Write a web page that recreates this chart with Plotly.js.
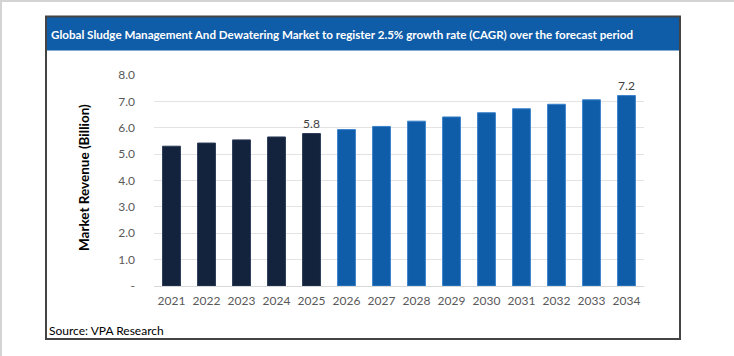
<!DOCTYPE html>
<html>
<head>
<meta charset="utf-8">
<script src="https://cdn.plot.ly/plotly-3.0.1.min.js"></script>
<style>
  html, body { margin: 0; padding: 0; background: #ffffff; }
  #chart { width: 734px; height: 356px; }
</style>
</head>
<body>
<div id="chart"></div>
<script>
// ---- Data ----
const years = ['2021','2022','2023','2024','2025','2026','2027','2028','2029','2030','2031','2032','2033','2034'];
const revenue = [5.30, 5.42, 5.54, 5.65, 5.78, 5.93, 6.05, 6.25, 6.41, 6.57, 6.72, 6.89, 7.06, 7.22];
const barLabels = ['', '', '', '', '5.8', '', '', '', '', '', '', '', '', '7.2'];
const isForecast = [false, false, false, false, false, true, true, true, true, true, true, true, true, true];
const yTickValues = [0, 1, 2, 3, 4, 5, 6, 7, 8];
const yTickLabels = ['-', '1.0', '2.0', '3.0', '4.0', '5.0', '6.0', '7.0', '8.0'];
const chartTitle = 'Global Sludge Management And Dewatering Market to register 2.5% growth rate (CAGR) over the forecast period';
const yTitle = 'Market Revenue (Billion)';
const sourceText = 'Source: VPA Research';

// ---- Styling helpers ----
const W = 734, H = 356;
const px = x => x / W;
const py = y => 1 - y / H;
const FONT = 'Lato, "Open Sans", sans-serif';

const histColor = '#13223d', histLine = '#2a3a55';
const fcColor = '#0f5ca8', fcLine = '#3b82cc';

const trace = {
  type: 'bar',
  x: years,
  y: revenue,
  text: barLabels,
  textposition: 'outside',
  textfont: { family: FONT, size: 12, color: '#404040' },
  cliponaxis: false,
  hoverinfo: 'x+y',
  marker: {
    color: isForecast.map(f => f ? fcColor : histColor),
    line: { color: isForecast.map(f => f ? fcLine : histLine), width: 1 }
  }
};

const layout = {
  width: W, height: H,
  margin: { l: 0, r: 0, t: 0, b: 0, pad: 0 },
  paper_bgcolor: '#ffffff',
  plot_bgcolor: '#ffffff',
  showlegend: false,
  bargap: 0.49,
  font: { family: FONT, size: 11, color: '#595959' },
  xaxis: {
    domain: [px(154), px(644)],
    type: 'category',
    showgrid: false,
    showline: true,
    linecolor: '#d9d9d9',
    linewidth: 1,
    ticks: '',
    tickfont: { family: FONT, size: 12, color: '#595959' },
    ticklabelstandoff: 4,
    fixedrange: true
  },
  yaxis: {
    domain: [py(286), py(75)],
    range: [0, 8],
    tickvals: yTickValues,
    ticktext: yTickLabels,
    showgrid: true,
    gridcolor: '#e3e3e3',
    gridwidth: 1,
    zeroline: false,
    showline: false,
    ticks: '',
    tickfont: { family: FONT, size: 12, color: '#595959' },
    ticklabelstandoff: 18,
    fixedrange: true
  },
  shapes: [
    // page edges
    { type: 'rect', xref: 'paper', yref: 'paper', x0: 0, x1: 1, y0: py(2), y1: py(0), fillcolor: '#d4d4d4', line: { width: 0 }, layer: 'below' },
    { type: 'rect', xref: 'paper', yref: 'paper', x0: 0, x1: px(2), y0: 0, y1: 1, fillcolor: '#d4d4d4', line: { width: 0 }, layer: 'below' },
    // title bar
    { type: 'rect', xref: 'paper', yref: 'paper', x0: px(46), x1: px(680), y0: py(50.5), y1: py(16.5), fillcolor: '#0f5ca8', line: { width: 0 }, layer: 'below' },
    // outer box
    { type: 'rect', xref: 'paper', yref: 'paper', x0: px(46), x1: px(680), y0: py(339), y1: py(16.5), fillcolor: 'rgba(0,0,0,0)', line: { color: '#444444', width: 2 }, layer: 'above' }
  ],
  annotations: [
    { xref: 'paper', yref: 'paper', x: px(49), y: py(34), xanchor: 'left', yanchor: 'middle', showarrow: false,
      text: '<b>' + chartTitle + '</b>', font: { family: FONT, size: 11.6, color: '#ffffff' } },
    { xref: 'paper', yref: 'paper', x: px(84), y: py(178), xanchor: 'center', yanchor: 'middle', showarrow: false,
      textangle: -90, text: '<b>' + yTitle + '</b>', font: { family: FONT, size: 13.5, color: '#000000' } },
    { xref: 'paper', yref: 'paper', x: px(47), y: py(330), xanchor: 'left', yanchor: 'middle', showarrow: false,
      text: sourceText, font: { family: FONT, size: 12, color: '#000000' } }
  ]
};

Plotly.newPlot('chart', [trace], layout, { displayModeBar: false, staticPlot: true });
</script>
</body>
</html>
